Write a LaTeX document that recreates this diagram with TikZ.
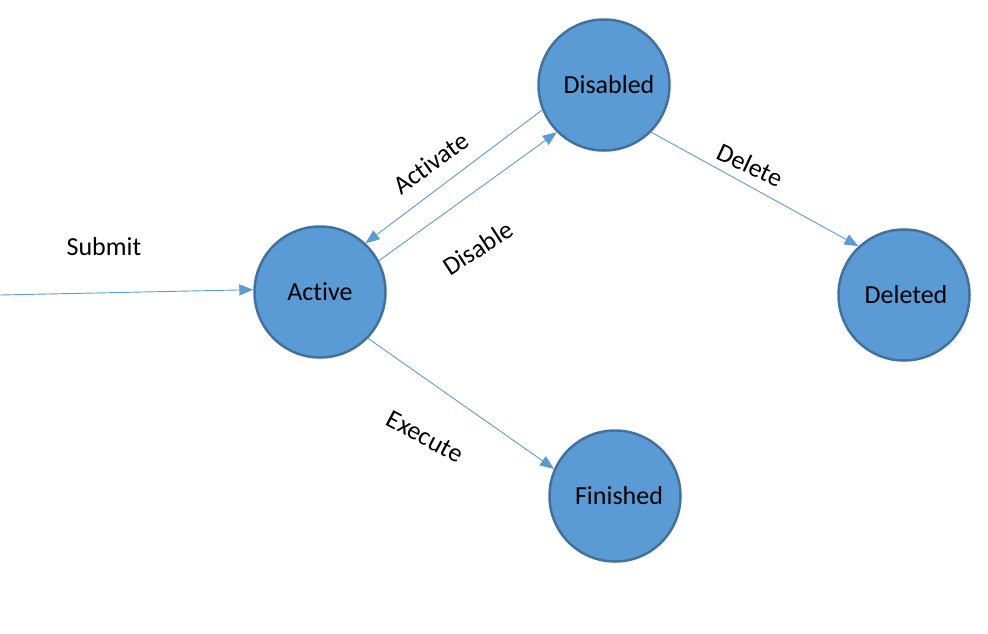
\documentclass[tikz,border=0pt]{standalone}
\usepackage{fontspec}
\setmainfont{Carlito}[Ligatures=NoCommon]
\usetikzlibrary{arrows.meta}
\definecolor{fillblue}{HTML}{5B9BD5}
\definecolor{edgeblue}{HTML}{41719C}
\definecolor{lineblue}{HTML}{5B9BD5}
\tikzset{
  state/.style={circle, draw=edgeblue, line width=2.5pt, fill=fillblue, minimum size=131pt, inner sep=0pt, font=\fontsize{26}{30}\selectfont},
  conn/.style={draw=lineblue, line width=0.9pt, -{Triangle[length=14pt,width=11pt]}},
  lbl/.style={font=\fontsize{26}{30}\selectfont, inner sep=0pt}
}
\begin{document}
\begin{tikzpicture}[x=1pt,y=-1pt]
\useasboundingbox (0,0) rectangle (988,633);
\node[state] (act) at (320,292) {Active};
\node[state] (dis) at (604,85) {\hspace{10pt}Disabled};
\node[state] (del) at (904,295) {\hspace{4pt}Deleted};
\node[state] (fin) at (615,496) {\hspace{8pt}Finished};
\coordinate (start) at (0,295);
\draw[conn] (start) -- (act.178);
\draw[conn] (dis.202) -- (act.47);
\draw[conn] (act.28) -- (dis.225);
\draw[conn] (dis.315) -- (del.133);
\draw[conn] (act.316) -- (fin.156);
\node[lbl] (lsub) at (104,247) {Submit};
\node[lbl, rotate=36] (lact) at (431,163) {Activate};
\node[lbl, rotate=33] (ldis) at (478,248) {Disable};
\node[lbl, rotate=-25] (ldel) at (750,165) {Delete};
\node[lbl, rotate=-28] (lexe) at (425,437) {Execute};
\end{tikzpicture}
\end{document}
